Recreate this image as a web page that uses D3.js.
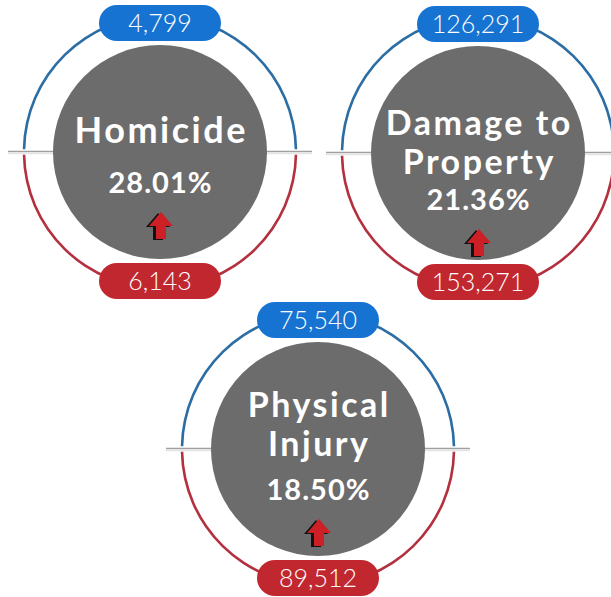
<!DOCTYPE html>
<html>
<head>
<meta charset="utf-8">
<script src="https://cdn.jsdelivr.net/npm/d3@7"></script>
<style>
  body { margin: 0; background: #fff; }
  svg { display: block; }
</style>
</head>
<body>
<svg id="chart" width="611" height="597"></svg>
<script>
// data
const titles = [["Homicide"], ["Damage to", "Property"], ["Physical", "Injury"]];
const topValues = [4799, 126291, 75540];
const bottomValues = [6143, 153271, 89512];
const changes = [28.01, 21.36, 18.50];

// layout for each badge (center, text offsets)
const LAYOUT = [
  { cx: 160, cy: 152, titleY: -9,  titleSize: 36, pctY: 41 },
  { cx: 478, cy: 153, titleY: -18, titleSize: 34, pctY: 57 },
  { cx: 318, cy: 449, titleY: -32, titleSize: 34, pctY: 51 }
];
const SIZES = {
  ring: 136,
  inner: 107,
  pill: { w: 122, h: 36, r: 18, off: 129 },
  line: 152,
  lineH: 39
};
const COLORS = {
  inner: "#6c6c6c",
  ringTop: "#2c6da4",
  ringBottom: "#b3303f",
  pillTop: "#1673d1",
  pillBottom: "#c1272f",
  arrow: "#cc2026"
};
const TITLE_SPACING = 2.5;

const fmt = d3.format(",");
const svg = d3.select("#chart");

const ringArc = d3.arc().innerRadius(SIZES.ring - 1.3).outerRadius(SIZES.ring + 1.3);

const badges = svg.selectAll("g.badge")
  .data(titles.map((t, i) => ({
    title: t, top: topValues[i], bottom: bottomValues[i], pct: changes[i], pos: LAYOUT[i]
  })))
  .enter()
  .append("g")
  .attr("class", "badge")
  .attr("transform", d => "translate(" + d.pos.cx + "," + d.pos.cy + ")");

// horizontal divider
badges.append("line")
  .attr("x1", -SIZES.line).attr("x2", SIZES.line)
  .attr("y1", -0.5).attr("y2", -0.5)
  .attr("stroke", "#a0a0a0").attr("stroke-width", 1.5);
badges.append("line")
  .attr("x1", -SIZES.line).attr("x2", SIZES.line)
  .attr("y1", 1.5).attr("y2", 1.5)
  .attr("stroke", "#e4e4e4").attr("stroke-width", 1.5);

// ring halves
badges.append("path")
  .attr("d", ringArc({ startAngle: -Math.PI / 2 + 0.02, endAngle: Math.PI / 2 - 0.02 }))
  .attr("fill", COLORS.ringTop);
badges.append("path")
  .attr("d", ringArc({ startAngle: Math.PI / 2 + 0.02, endAngle: 3 * Math.PI / 2 - 0.02 }))
  .attr("fill", COLORS.ringBottom);

// inner disc
badges.append("circle")
  .attr("r", SIZES.inner)
  .attr("fill", COLORS.inner);

// title lines
badges.each(function(d) {
  const g = d3.select(this);
  d.title.forEach((line, j) => {
    g.append("text")
      .attr("x", TITLE_SPACING / 2)
      .attr("y", d.pos.titleY + j * SIZES.lineH)
      .attr("text-anchor", "middle")
      .attr("font-family", "Lato, sans-serif")
      .attr("font-weight", 700)
      .attr("font-size", d.pos.titleSize)
      .attr("letter-spacing", TITLE_SPACING)
      .attr("fill", "#fff")
      .text(line);
  });
});

// percentage
badges.append("text")
  .attr("x", 0.5)
  .attr("y", d => d.pos.pctY)
  .attr("text-anchor", "middle")
  .attr("font-family", "Lato, sans-serif")
  .attr("font-weight", 700)
  .attr("font-size", 29)
  .attr("letter-spacing", 1)
  .attr("fill", "#fff")
  .text(d => d.pct.toFixed(2) + "%");

// up arrow (shadow + body)
const arrowPts = [[0, 0], [12, 14], [5, 14], [5, 27], [-5, 27], [-5, 14], [-12, 14]];
const arrowLine = d3.line().curve(d3.curveLinearClosed);
badges.append("path")
  .attr("transform", d => "translate(" + 0 + "," + (d.pos.pctY + 19) + ")")
  .attr("d", arrowLine(arrowPts.map(p => [p[0] - 2, p[1] + 1])))
  .attr("fill", "#111");
badges.append("path")
  .attr("transform", d => "translate(" + 1 + "," + (d.pos.pctY + 19) + ")")
  .attr("d", arrowLine(arrowPts))
  .attr("fill", COLORS.arrow);

// value pills
function addPill(sel, y, color, getVal) {
  const p = sel.append("g").attr("transform", "translate(0," + y + ")");
  p.append("rect")
    .attr("x", -SIZES.pill.w / 2).attr("y", -SIZES.pill.h / 2)
    .attr("width", SIZES.pill.w).attr("height", SIZES.pill.h)
    .attr("rx", SIZES.pill.r)
    .attr("fill", color);
  p.append("text")
    .attr("x", 0).attr("y", 0)
    .attr("dy", "0.36em")
    .attr("text-anchor", "middle")
    .attr("font-family", "Lato, sans-serif")
    .attr("font-weight", 300)
    .attr("font-size", 25)
    .attr("fill", "#fff")
    .text(getVal);
}
addPill(badges, -SIZES.pill.off, COLORS.pillTop, d => fmt(d.top));
addPill(badges, SIZES.pill.off, COLORS.pillBottom, d => fmt(d.bottom));
</script>
</body>
</html>
